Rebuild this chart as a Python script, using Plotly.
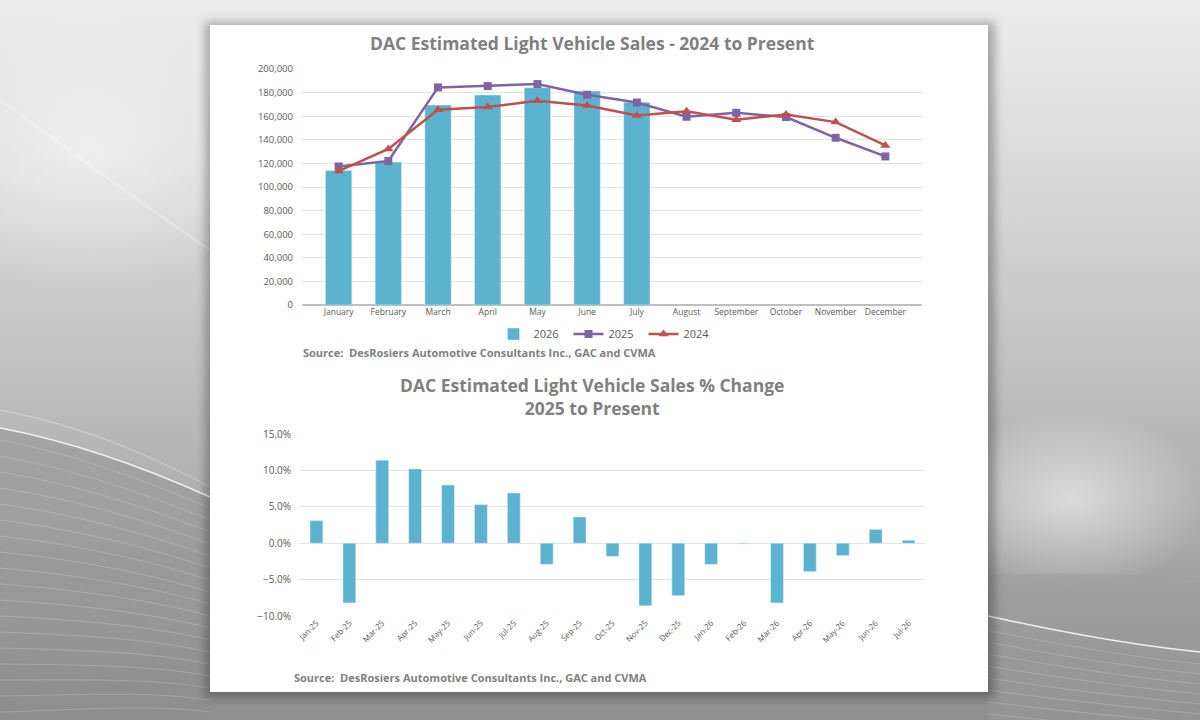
import urllib.parse
import plotly.graph_objects as go

# ---- data ----
months = ['January', 'February', 'March', 'April', 'May', 'June', 'July',
          'August', 'September', 'October', 'November', 'December']
sales_2026 = [114000, 121100, 169400, 177900, 184100, 181300, 171900]
sales_2025 = [117400, 122000, 184400, 185500, 187200, 178200, 171600,
              159500, 162900, 159300, 141700, 125900]
sales_2024 = [113500, 132200, 165400, 167900, 173000, 169100, 160600,
              164100, 157000, 161500, 155000, 135200]

pct_labels = ['Jan-25', 'Feb-25', 'Mar-25', 'Apr-25', 'May-25', 'Jun-25', 'Jul-25',
              'Aug-25', 'Sep-25', 'Oct-25', 'Nov-25', 'Dec-25', 'Jan-26', 'Feb-26',
              'Mar-26', 'Apr-26', 'May-26', 'Jun-26', 'Jul-26']
pct_change = [0.031, -0.082, 0.114, 0.102, 0.080, 0.053, 0.069, -0.029, 0.036, -0.018,
              -0.086, -0.072, -0.029, -0.001, -0.082, -0.039, -0.017, 0.019, 0.004]

BAR = '#5cb3cf'
PURPLE = '#8064a2'
RED = '#c0504d'
TITLE_GREY = '#808080'
TEXT_GREY = '#595959'
GRID = '#e3e3e3'
FONT = 'Open Sans'

# decorative grey backdrop (gradient, swooshes, panel shadow) as an inline svg
left_lines = "".join(
    f"<path d='M0,{440 + k * 16} C80,{455 + k * 15} 150,{483 + k * 13} 210,{508 + k * 12}' "
    "stroke='#ffffff' stroke-opacity='0.22' stroke-width='0.8' fill='none'/>"
    for k in range(18)
)
right_lines = "".join(
    f"<path d='M988,{630 + k * 12} C1060,{645 + k * 11} 1130,{657 + k * 10} 1200,{664 + k * 10}' "
    "stroke='#ffffff' stroke-opacity='0.2' stroke-width='0.8' fill='none'/>"
    for k in range(8)
)
svg = (
    "<svg xmlns='http://www.w3.org/2000/svg' width='1200' height='720'>"
    "<defs>"
    "<linearGradient id='g' x1='0' y1='0' x2='0' y2='1'>"
    "<stop offset='0' stop-color='#ededed'/><stop offset='0.4' stop-color='#cbcbcb'/>"
    "<stop offset='0.75' stop-color='#a9a9a9'/><stop offset='1' stop-color='#8e8e8e'/></linearGradient>"
    "<radialGradient id='glow'><stop offset='0' stop-color='#ffffff' stop-opacity='0.55'/>"
    "<stop offset='1' stop-color='#ffffff' stop-opacity='0'/></radialGradient>"
    "<filter id='blur'><feGaussianBlur stdDeviation='5'/></filter>"
    "</defs>"
    "<rect width='1200' height='720' fill='url(#g)'/>"
    "<ellipse cx='90' cy='150' rx='220' ry='140' fill='url(#glow)'/>"
    "<ellipse cx='1070' cy='500' rx='140' ry='90' fill='url(#glow)'/>"
    "<path d='M0,428 C80,443 150,470 210,497 L210,720 L0,720 Z' fill='#8f8f8f' fill-opacity='0.45'/>"
    "<path d='M0,428 C80,443 150,470 210,497' stroke='#ffffff' stroke-opacity='0.85' stroke-width='1.5' fill='none'/>"
    "<path d='M0,410 C80,425 150,455 210,487' stroke='#ffffff' stroke-opacity='0.35' fill='none'/>"
    "<path d='M0,100 C70,150 150,210 210,250' stroke='#ffffff' stroke-opacity='0.3' stroke-width='2' fill='none'/>"
    + left_lines +
    "<path d='M988,575 C1060,572 1130,574 1200,578 L1200,720 L988,720 Z' fill='#9a9a9a' fill-opacity='0.4'/>"
    "<path d='M988,616 C1060,632 1130,645 1200,652' stroke='#ffffff' stroke-opacity='0.85' stroke-width='1.5' fill='none'/>"
    + right_lines +
    "<rect x='205' y='22' width='790' height='676' fill='#000000' fill-opacity='0.28' filter='url(#blur)'/>"
    "</svg>"
)
bg_uri = "data:image/svg+xml;charset=utf-8," + urllib.parse.quote(svg)

fig = go.Figure()

# ---- top chart: monthly sales ----
fig.add_trace(go.Bar(
    x=months[:len(sales_2026)], y=sales_2026, name='2026',
    marker_color=BAR, width=0.53, xaxis='x', yaxis='y'
))
fig.add_trace(go.Scatter(
    x=months, y=sales_2025, name='2025', mode='lines+markers',
    line=dict(color=PURPLE, width=2.5),
    marker=dict(symbol='square', size=8, color=PURPLE),
    xaxis='x', yaxis='y'
))
fig.add_trace(go.Scatter(
    x=months, y=sales_2024, name='2024', mode='lines+markers',
    line=dict(color=RED, width=2.5),
    marker=dict(symbol='triangle-up', size=9, color=RED),
    xaxis='x', yaxis='y'
))

# ---- bottom chart: % change ----
fig.add_trace(go.Bar(
    x=pct_labels, y=pct_change, name='% change', showlegend=False,
    marker_color=BAR, width=0.39, xaxis='x2', yaxis='y2'
))

fig.update_layout(
    width=1200, height=720,
    margin=dict(l=0, r=0, t=0, b=0, pad=0, autoexpand=False),
    paper_bgcolor='#cfcfcf',
    plot_bgcolor='rgba(0,0,0,0)',
    font=dict(family=FONT, color=TEXT_GREY, size=10),
    barmode='overlay',
    images=[dict(source=bg_uri, xref='paper', yref='paper', x=0, y=1,
                 sizex=1, sizey=1, sizing='stretch', layer='below')],
    shapes=[dict(type='rect', xref='paper', yref='paper',
                 x0=210 / 1200, x1=988 / 1200, y0=1 - 692 / 720, y1=1 - 25 / 720,
                 fillcolor='white', line=dict(width=0), layer='below')],
    xaxis=dict(domain=[302 / 1200, 922 / 1200], anchor='y', automargin=False,
               showgrid=False, showline=False, ticks='',
               tickfont=dict(size=8.5, color=TEXT_GREY)),
    yaxis=dict(domain=[1 - 305 / 720, 1 - 69 / 720], anchor='x', automargin=False,
               range=[0, 200000], dtick=20000, tickformat=',d',
               gridcolor=GRID, gridwidth=1, zeroline=True,
               zerolinecolor='#bfbfbf', zerolinewidth=2,
               ticks='', ticklabelstandoff=8,
               tickfont=dict(size=9.5, color=TEXT_GREY)),
    xaxis2=dict(domain=[300 / 1200, 925 / 1200], anchor='y2', automargin=False,
                showgrid=False, showline=False, ticks='', tickangle=-45,
                tickfont=dict(size=8, color=TEXT_GREY)),
    yaxis2=dict(domain=[1 - 616 / 720, 1 - 434 / 720], anchor='x2', automargin=False,
                range=[-0.10, 0.15], dtick=0.05, tickformat='.1%',
                gridcolor=GRID, gridwidth=1, zeroline=True,
                zerolinecolor=GRID, zerolinewidth=1,
                ticks='', ticklabelstandoff=8,
                tickfont=dict(size=10, color=TEXT_GREY)),
    legend=dict(orientation='h', xanchor='center', yanchor='middle',
                x=606 / 1200, y=1 - 334 / 720, bgcolor='rgba(0,0,0,0)',
                font=dict(size=11, color=TEXT_GREY), traceorder='normal',
                itemwidth=30, entrywidth=30, tracegroupgap=0),
    annotations=[
        dict(text='<b>DAC Estimated Light Vehicle Sales - 2024 to Present</b>',
             xref='paper', yref='paper', x=592 / 1200, y=1 - 43 / 720,
             xanchor='center', yanchor='middle', showarrow=False,
             font=dict(family=FONT, size=17.5, color=TITLE_GREY)),
        dict(text='<b>Source:  DesRosiers Automotive Consultants Inc., GAC and CVMA</b>',
             xref='paper', yref='paper', x=301 / 1200, y=1 - 352 / 720,
             xanchor='left', yanchor='middle', showarrow=False,
             font=dict(family=FONT, size=11, color=TITLE_GREY)),
        dict(text='<b>DAC Estimated Light Vehicle Sales % Change<br>2025 to Present</b>',
             xref='paper', yref='paper', x=592 / 1200, y=1 - 396 / 720,
             xanchor='center', yanchor='middle', showarrow=False,
             font=dict(family=FONT, size=17.5, color=TITLE_GREY)),
        dict(text='<b>Source:  DesRosiers Automotive Consultants Inc., GAC and CVMA</b>',
             xref='paper', yref='paper', x=292 / 1200, y=1 - 677 / 720,
             xanchor='left', yanchor='middle', showarrow=False,
             font=dict(family=FONT, size=11, color=TITLE_GREY)),
    ],
)

# drop the default page margin so the 1200x720 figure sits at the window corner
fig.write_html("out.html",
               config=dict(displayModeBar=False),
               post_script="document.body.style.margin='0';")
